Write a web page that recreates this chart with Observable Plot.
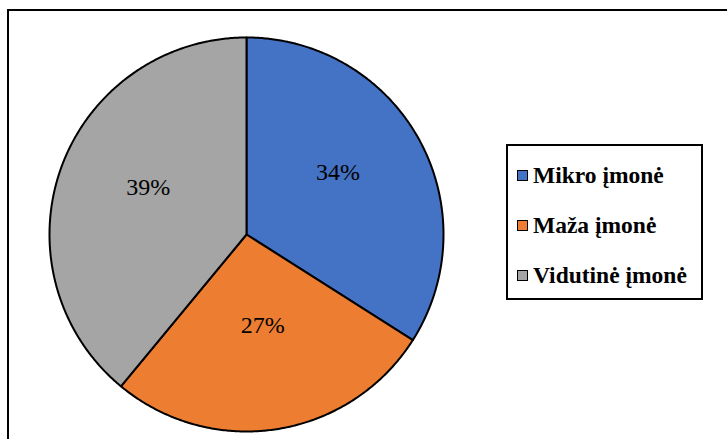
<!DOCTYPE html>
<html>
<head>
<meta charset="utf-8">
<script src="https://cdn.jsdelivr.net/npm/d3@7"></script>
<script src="https://cdn.jsdelivr.net/npm/@observablehq/plot@0.6"></script>
<style>
  html, body { margin: 0; padding: 0; background: #fff; }
  #wrap { position: relative; width: 727px; height: 439px; overflow: hidden; background: #fff; }
  #chart { position: absolute; left: 0; top: 0; }
  #frame { position: absolute; left: 7px; top: 9px; width: 900px; height: 900px; border: 2px solid #000; z-index: 3; pointer-events: none; }
  #legend { position: absolute; left: 506px; top: 144px; width: 193px; height: 148px; border: 2px solid #000; background: #fff; z-index: 2;
            font-family: 'Liberation Serif', 'DejaVu Serif', serif; font-weight: bold; font-size: 23.5px; color: #000; padding-top: 4px; box-sizing: content-box; }
  .row { height: 50px; display: flex; align-items: center; padding-left: 9px; white-space: nowrap; }
  .sw { width: 9px; height: 9px; border: 1.6px solid #000; margin-right: 5px; flex: none; }
  #chart text { font-family: 'Liberation Serif', 'DejaVu Serif', serif; }
</style>
</head>
<body>
<div id="wrap">
  <div id="chart"></div>
  <div id="legend"></div>
  <div id="frame"></div>
</div>
<script>
const categories = ["Mikro įmonė", "Maža įmonė", "Vidutinė įmonė"];
const values = [34, 27, 39];
const labels = ["34%", "27%", "39%"];
const colors = ["#4472C4", "#ED7D31", "#A5A5A5"];

const pie = d3.pie().sort(null).value(d => d.value)(categories.map((c, i) => ({name: c, value: values[i], label: labels[i]})));

const slicePts = [];
const labelPts = [];
for (const a of pie) {
  const n = Math.max(2, Math.ceil((a.endAngle - a.startAngle) / (Math.PI / 360)));
  slicePts.push({name: a.data.name, x: 0, y: 0});
  for (let k = 0; k <= n; k++) {
    const t = a.startAngle + (a.endAngle - a.startAngle) * k / n;
    slicePts.push({name: a.data.name, x: Math.sin(t), y: Math.cos(t)});
  }
  slicePts.push({name: a.data.name, x: 0, y: 0});
  const m = (a.startAngle + a.endAngle) / 2;
  labelPts.push({label: a.data.label, x: 0.53 * Math.sin(m), y: 0.53 * Math.cos(m) + 0.06});
}

const chart = Plot.plot({
  width: 727,
  height: 439,
  margin: 0,
  style: {background: "transparent"},
  x: {domain: [-1, 1], range: [49, 443], axis: null},
  y: {domain: [-1, 1], range: [431, 37], axis: null},
  color: {domain: categories, range: colors},
  marks: [
    Plot.line(slicePts, {x: "x", y: "y", z: "name", fill: "name", stroke: "#000", strokeWidth: 2, strokeLinejoin: "round", curve: "linear"}),
    Plot.text(labelPts, {x: "x", y: "y", text: "label", fontSize: 24, fontFamily: "'Liberation Serif', 'DejaVu Serif', serif", fill: "#000"})
  ]
});
document.getElementById("chart").appendChild(chart);

const legend = document.getElementById("legend");
categories.forEach((c, i) => {
  const row = document.createElement("div");
  row.className = "row";
  const sw = document.createElement("span");
  sw.className = "sw";
  sw.style.background = colors[i];
  const tx = document.createElement("span");
  tx.textContent = c;
  row.appendChild(sw);
  row.appendChild(tx);
  legend.appendChild(row);
});
</script>
</body>
</html>
